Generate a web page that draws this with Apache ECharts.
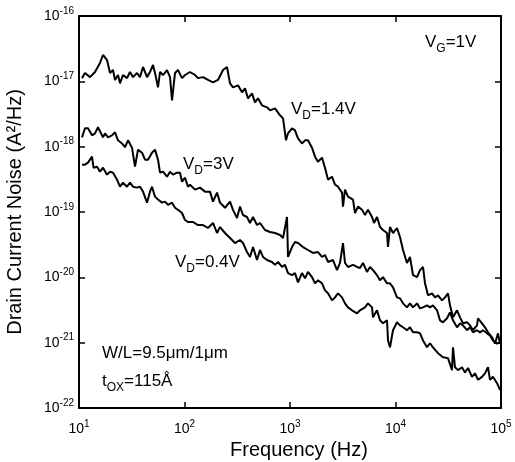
<!DOCTYPE html>
<html>
<head>
<meta charset="utf-8">
<script src="https://cdn.jsdelivr.net/npm/echarts@6/dist/echarts.min.js"></script>
<style>html,body{margin:0;padding:0;background:#fff}#c{width:515px;height:462px}</style>
</head>
<body>
<div id="c"></div>
<script>
// ---- data (frequency in Hz, noise in A^2/Hz) ----
const freqA = [10.67,11.40,12.71,14.18,15.81,16.89,18.43,19.67,21.01,21.94,23.43,24.47,26.13,28.51,30.44,32.50,35.47,37.87,40.44,44.12,47.10,50.29,52.53,56.09,58.60,62.57,68.28,72.90,76.15,81.28,86.79,94.69,101.1,112.7,125.8,134.3,149.8,167.0,186.3,207.8,231.7,252.8,270.0,288.2,321.5,350.8,374.5,399.9,436.4,465.9,497.4,542.7,605.3,646.4,721.0,804.3,858.7,916.6,957.2,1045,1115,1191,1299,1388,1481,1616,1726,1842,2011,2147,2292,2502,2671,2851,3111,3180,3321,3546,3956,4132,4411,4814,5138,5487,5989,6256,6677,7131,7612,8308,8491,8869,9469,10330,11030,11780,12850,13720,14660,15990,17070,18230,19040,20330,22180,23680,25290,27590,29460,31450,32850,35080,38280,40880,43640,47620,50830,54280,59230,60540,66060,70520,75310,82170,87730,93670,97840];
const noiseA = [1.12e-17,1.34e-17,1.16e-17,1.39e-17,1.91e-17,2.53e-17,2.12e-17,1.34e-17,1.49e-17,1.05e-17,1.25e-17,9.32e-18,1.25e-17,1.12e-17,1.39e-17,1.16e-17,1.34e-17,1.16e-17,1.66e-17,1.16e-17,1.39e-17,1.78e-17,1.34e-17,8.09e-18,1.39e-17,1.25e-17,1.49e-17,1.16e-17,5.12e-18,1.34e-17,1.49e-17,1.12e-17,1.25e-17,1.39e-17,1.25e-17,1.12e-17,1.16e-17,1.05e-17,9.65e-18,1.05e-17,1.49e-17,1.66e-17,9.32e-18,8.09e-18,8.68e-18,6.79e-18,7.81e-18,5.49e-18,6.55e-18,4.77e-18,5.49e-18,4.29e-18,4.00e-18,3.60e-18,3.86e-18,3.02e-18,2.71e-18,1.25e-18,1.60e-18,1.91e-18,1.78e-18,1.34e-18,1.12e-18,1.25e-18,1.25e-18,9.65e-19,7.03e-19,5.89e-19,6.79e-19,4.77e-19,3.13e-19,3.47e-19,2.62e-19,2.44e-19,1.98e-19,1.21e-19,2.20e-19,1.72e-19,1.55e-19,9.65e-20,1.21e-19,1.08e-19,9.00e-20,1.08e-19,8.38e-20,6.79e-20,8.38e-20,5.89e-20,5.30e-20,4.77e-20,2.91e-20,5.89e-20,4.77e-20,5.69e-20,4.14e-20,2.62e-20,1.66e-20,2.05e-20,1.08e-20,1.01e-20,1.29e-20,1.44e-20,8.09e-21,5.30e-21,5.69e-21,4.94e-21,5.30e-21,4.44e-21,4.94e-21,5.69e-21,3.73e-21,2.44e-21,3.13e-21,2.44e-21,1.98e-21,2.05e-21,1.84e-21,1.55e-21,1.84e-21,2.36e-21,1.98e-21,1.72e-21,1.44e-21,1.21e-21,9.65e-22,1.39e-21,9.65e-22];

const freqB = [10.67,11.40,12.17,13.28,14.18,15.14,16.89,17.64,18.83,20.55,21.94,23.43,25.56,27.29,29.14,31.80,33.95,36.25,39.56,42.24,45.09,49.20,52.53,56.09,58.60,62.57,68.28,72.90,77.84,84.92,90.66,94.69,101.1,107.9,112.7,125.8,140.3,156.4,174.5,186.3,203.3,217.0,242.1,270.0,288.2,314.5,335.8,358.5,391.2,417.8,446.1,486.7,519.5,579.4,646.4,721.0,804.3,858.7,936.8,957.2,1045,1115,1191,1328,1481,1652,1842,2011,2147,2292,2556,2790,2978,3180,3321,3546,3956,4317,4607,4919,5369,5732,6120,6677,7131,7612,8308,8869,9469,10330,11030,11780,12850,13720,14660,15990,17070,18230,19890,21230,22670,24740,26420,28200,30770,32850,35080,38280,40880,43640,47620,50830,54280,59230,63240,67520,73680,78660,83990,91660,97840];
const noiseB = [1.39e-18,1.91e-18,1.91e-18,1.49e-18,1.60e-18,1.98e-18,1.39e-18,1.60e-18,1.39e-18,1.49e-18,1.66e-18,1.25e-18,1.12e-18,9.8e-19,1.25e-18,9.65e-19,4.94e-19,9.00e-19,8.09e-19,6.32e-19,6.32e-19,8.09e-19,9.00e-19,6.32e-19,4.00e-19,4.14e-19,3.47e-19,4.14e-19,3.73e-19,4.00e-19,4.00e-19,2.91e-19,3.35e-19,2.44e-19,2.62e-19,2.20e-19,2.36e-19,2.05e-19,2.05e-19,1.44e-19,1.98e-19,1.39e-19,1.16e-19,1.44e-19,1.08e-19,8.09e-20,1.21e-19,9.00e-20,8.38e-20,6.79e-20,8.38e-20,6.32e-20,6.79e-20,5.30e-20,4.94e-20,4.77e-20,4.44e-20,4.00e-20,8.38e-20,2.05e-20,2.91e-20,3.47e-20,3.35e-20,2.91e-20,2.62e-20,2.36e-20,2.44e-20,2.05e-20,2.20e-20,1.72e-20,1.84e-20,1.29e-20,1.66e-20,3.35e-20,1.66e-20,1.44e-20,1.55e-20,1.44e-20,1.39e-20,1.66e-20,1.21e-20,1.44e-20,1.29e-20,1.08e-20,9.00e-21,1.01e-20,8.09e-21,8.09e-21,7.03e-21,4.94e-21,4.77e-21,4.00e-21,3.47e-21,4.00e-21,3.47e-21,4.00e-21,3.35e-21,3.47e-21,3.73e-21,3.47e-21,3.73e-21,3.13e-21,2.20e-21,2.05e-21,2.36e-21,2.91e-21,2.20e-21,1.72e-21,1.98e-21,1.84e-21,1.55e-21,1.72e-21,1.44e-21,1.55e-21,1.44e-21,1.55e-21,1.39e-21,1.29e-21,1.08e-21,9.65e-22,1.01e-21];

const freqC = [10.67,11.40,12.17,13.28,13.74,14.84,15.81,16.89,18.43,19.67,21.01,22.93,24.47,26.13,28.51,30.44,32.50,35.47,37.87,40.44,44.12,47.10,49.20,52.53,56.09,61.21,65.36,69.79,76.15,81.28,86.79,94.69,101.1,107.9,120.4,134.3,149.8,167.0,186.3,203.3,217.0,242.1,270.0,301.1,335.8,358.5,391.2,417.8,446.1,486.7,519.5,554.7,605.3,675.2,721.0,769.9,840.2,896.9,957.2,1045,1115,1191,1299,1388,1481,1616,1726,1842,2011,2147,2292,2502,2671,2851,3111,3321,3546,3870,4317,4607,5138,5487,5989,6120,6677,7131,7612,8308,8491,8869,9469,10330,11030,11780,12850,13720,14660,15990,17070,18230,19890,21230,22670,25290,28200,31450,34320,35080,36640,39130,42690,45590,48680,53110,56710,60540,66060,70520,75310,78660,83990,91660,97840];
const noiseC = [5.30e-19,5.30e-19,5.69e-19,7.03e-19,4.77e-19,4.94e-19,4.14e-19,4.77e-19,3.73e-19,4.14e-19,4.00e-19,3.13e-19,2.44e-19,2.81e-19,2.44e-19,2.81e-19,2.44e-19,2.36e-19,2.44e-19,2.05e-19,1.39e-19,2.05e-19,2.44e-19,1.72e-19,1.55e-19,1.39e-19,1.44e-19,1.29e-19,1.39e-19,1.16e-19,1.08e-19,9.65e-20,7.54e-20,7.03e-20,7.03e-20,6.32e-20,6.32e-20,5.69e-20,6.79e-20,4.77e-20,5.89e-20,4.77e-20,4.00e-20,3.35e-20,3.73e-20,3.35e-20,2.44e-20,2.05e-20,2.91e-20,1.84e-20,2.62e-20,2.05e-20,1.84e-20,1.72e-20,1.55e-20,1.72e-20,1.44e-20,1.55e-20,1.16e-20,1.08e-20,1.16e-20,8.38e-21,1.16e-20,9.65e-21,1.21e-20,1.01e-20,8.09e-21,9.00e-21,8.09e-21,6.32e-21,5.69e-21,4.44e-21,4.94e-21,5.69e-21,4.94e-21,4.00e-21,3.47e-21,3.13e-21,2.81e-21,3.13e-21,3.47e-21,4.00e-21,3.47e-21,2.44e-21,3.13e-21,2.20e-21,1.98e-21,2.20e-21,1.08e-21,8.5e-22,1.55e-21,2.05e-21,1.84e-21,1.72e-21,1.55e-21,1.72e-21,1.44e-21,1.44e-21,1.39e-21,1.08e-21,8.5e-22,9.8e-22,8.5e-22,6.9e-22,6.0e-22,5.8e-22,3.8e-22,8.5e-22,4.2e-22,3.8e-22,4.2e-22,3.5e-22,4.1e-22,3.0e-22,3.4e-22,2.7e-22,3.0e-22,3.4e-22,4.2e-22,2.7e-22,3.0e-22,2.4e-22,1.9e-22];

// ---- tick labels ----
const xTickValues = [10, 100, 1000, 10000, 100000];
const xTickExps = ['1', '2', '3', '4', '5'];
const yTickValues = [1e-22, 1e-21, 1e-20, 1e-19, 1e-18, 1e-17, 1e-16];
const yTickExps = ['-22', '-21', '-20', '-19', '-18', '-17', '-16'];

// ECharts' log scale loses values below ~1e-21 to rounding, so the noise
// axis works in units of 1e-22 A^2/Hz; labels are mapped back to true values.
const Y_UNIT = 1e-22;

const FONT = '"Liberation Sans", Arial, Helvetica, sans-serif';

function zip(f, s) { return f.map((v, i) => [v, s[i] / Y_UNIT]); }
function findExp(vals, exps, v) {
  let best = 0, bd = Infinity;
  for (let i = 0; i < vals.length; i++) {
    const d = Math.abs(Math.log10(vals[i]) - Math.log10(v));
    if (d < bd) { bd = d; best = i; }
  }
  return exps[best];
}
// superscript: padding at the bottom of the small token lifts it (tokens are centred on the line)
const supRich = {
  b: { fontSize: 14, fontFamily: FONT, color: '#000' },
  s: { fontSize: 10, padding: [0, 0, 10, 0], fontFamily: FONT, color: '#000' }
};
// subscript: padding at the top of the small token drops it
const subRich = {
  b: { fontSize: 17, fontFamily: FONT, fill: '#000', color: '#000' },
  s: { fontSize: 12, padding: [12, 0, 0, 0], fontFamily: FONT, fill: '#000', color: '#000' }
};

const chart = echarts.init(document.getElementById('c'), null, { renderer: 'canvas' });
const lineStyle = { color: '#000', width: 2 };
const mkSeries = (name, f, s) => ({
  name, type: 'line', data: zip(f, s), showSymbol: false, symbol: 'none',
  lineStyle, itemStyle: { color: '#000' }, animation: false, silent: true, clip: true
});

const axisCommon = {
  axisLine: { show: true, lineStyle: { color: '#000', width: 2 } },
  axisTick: { show: true, inside: true, length: 6, lineStyle: { color: '#000', width: 1.5 } },
  splitLine: { show: false },
  minorTick: { show: false }
};
const yMin = yTickValues[0] / Y_UNIT, yMax = yTickValues[yTickValues.length - 1] / Y_UNIT;

chart.setOption({
  backgroundColor: '#fff',
  animation: false,
  grid: { left: 79, right: 14, top: 16, bottom: 54, containLabel: false, outerBoundsMode: 'none' },
  xAxis: [
    Object.assign({
      type: 'log', logBase: 10, min: xTickValues[0], max: xTickValues[xTickValues.length - 1],
      name: 'Frequency (Hz)', nameLocation: 'middle', nameGap: 30,
      nameTextStyle: { fontSize: 20, fontFamily: FONT, color: '#000', padding: [0, 0, 0, 18] },
      axisLabel: {
        margin: 11,
        formatter: v => '{b|10}{s|' + findExp(xTickValues, xTickExps, v) + '}',
        rich: supRich
      }
    }, axisCommon),
    Object.assign({
      type: 'log', logBase: 10, min: xTickValues[0], max: xTickValues[xTickValues.length - 1], position: 'top',
      axisLabel: { show: false }
    }, axisCommon)
  ],
  yAxis: [
    Object.assign({
      type: 'log', logBase: 10, min: yMin, max: yMax,
      name: 'Drain Current Noise (A²/Hz)', nameLocation: 'middle', nameGap: 54,
      nameTextStyle: { fontSize: 20, fontFamily: FONT, color: '#000' },
      axisLabel: {
        margin: 5,
        formatter: v => '{b|10}{s|' + findExp(yTickValues, yTickExps, v * Y_UNIT) + '}',
        rich: supRich
      }
    }, axisCommon),
    Object.assign({
      type: 'log', logBase: 10, min: yMin, max: yMax, position: 'right',
      axisLabel: { show: false }
    }, axisCommon)
  ],
  series: [
    mkSeries('VD=1.4V', freqA, noiseA),
    mkSeries('VD=3V', freqB, noiseB),
    mkSeries('VD=0.4V', freqC, noiseC)
  ],
  graphic: [
    { type: 'text', left: 425, top: 34, style: { text: '{b|V}{s|G}{b|=1V}', rich: subRich } },
    { type: 'text', left: 291, top: 101, style: { text: '{b|V}{s|D}{b|=1.4V}', rich: subRich } },
    { type: 'text', left: 183, top: 156, style: { text: '{b|V}{s|D}{b|=3V}', rich: subRich } },
    { type: 'text', left: 175, top: 254, style: { text: '{b|V}{s|D}{b|=0.4V}', rich: subRich } },
    { type: 'text', left: 102, top: 345, style: { text: 'W/L=9.5μm/1μm', font: '17px ' + FONT, fill: '#000' } },
    { type: 'text', left: 102, top: 373, style: { text: '{b|t}{s|OX}{b|=115Å}', rich: subRich } }
  ]
});
</script>
</body>
</html>
